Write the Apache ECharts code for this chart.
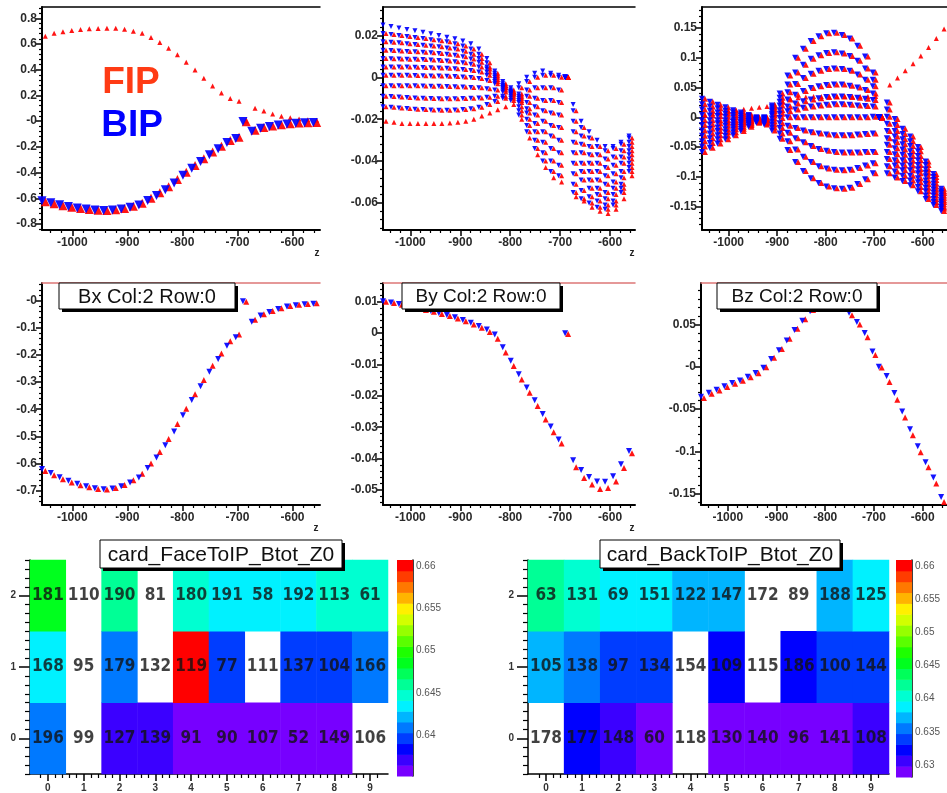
<!DOCTYPE html>
<html>
<head>
<meta charset="utf-8">
<script src="https://cdn.jsdelivr.net/npm/echarts@6/dist/echarts.min.js"></script>
<style>
html,body{margin:0;padding:0;background:#fff;}
#c{width:947px;height:793px;}
</style>
</head>
<body>
<div id="c"></div>
<script>
// ---- probe positions along z (BIP points sit a few units upstream of FIP) ----
const zBIP = [-1055,-1039,-1023,-1007,-991,-975,-959,-943,-927,-911,-895,-879,-863,-847,-831,-815,-799,-783,-767,-751,-735,-719,-703,-690,-674,-658,-642,-626,-610,-594,-578,-562];
const zFIP = [-1049,-1033,-1017,-1001,-985,-969,-953,-937,-921,-905,-889,-873,-857,-841,-825,-809,-793,-777,-761,-745,-729,-713,-697,-684,-668,-652,-636,-620,-604,-588,-572,-556];

// ---- single card Col:2 Row:0 ----
const bxCardBIP = [-0.62,-0.635,-0.651,-0.664,-0.675,-0.684,-0.691,-0.695,-0.692,-0.684,-0.67,-0.652,-0.617,-0.578,-0.533,-0.482,-0.422,-0.366,-0.315,-0.262,-0.215,-0.166,-0.135,-0.002,-0.078,-0.055,-0.042,-0.031,-0.022,-0.017,-0.013,-0.011];
const bxCardFIP = [-0.628,-0.643,-0.658,-0.67,-0.68,-0.688,-0.694,-0.696,-0.69,-0.679,-0.662,-0.638,-0.6,-0.558,-0.51,-0.455,-0.398,-0.345,-0.292,-0.24,-0.195,-0.15,-0.125,-0.004,-0.07,-0.05,-0.038,-0.028,-0.02,-0.015,-0.012,-0.01];
const byCardBIP = [0.0102,0.0098,0.0093,0.0088,0.0083,0.0077,0.0071,0.0064,0.0058,0.0051,0.0042,0.0033,0.0023,0.0012,-0.0004,-0.0045,-0.0088,-0.0131,-0.0173,-0.0214,-0.0258,-0.0298,-0.0339,0.0,-0.0405,-0.0436,-0.0459,-0.0473,-0.0474,-0.0456,-0.0418,-0.0376];
const byCardFIP = [0.01,0.0096,0.0091,0.0086,0.008,0.0074,0.0068,0.0061,0.0055,0.0047,0.0038,0.0028,0.0017,0.0004,-0.0018,-0.0062,-0.0105,-0.0148,-0.019,-0.0232,-0.0275,-0.0316,-0.0352,-0.0003,-0.0428,-0.0462,-0.0483,-0.0497,-0.0494,-0.0473,-0.043,-0.0383];
const bzCardBIP = [-0.0355,-0.0308,-0.0272,-0.0232,-0.0193,-0.0162,-0.0118,-0.0074,-0.0012,0.0092,0.0195,0.031,0.0435,0.0545,0.0655,0.074,0.081,0.084,0.078,0.0638,0.053,0.04,0.018,0.0,-0.011,-0.031,-0.053,-0.074,-0.094,-0.113,-0.131,-0.154];
const bzCardFIP = [-0.037,-0.032,-0.028,-0.024,-0.02,-0.0165,-0.0125,-0.0078,-0.0005,0.0105,0.021,0.033,0.045,0.056,0.067,0.075,0.0815,0.083,0.075,0.061,0.05,0.035,0.014,-0.001,-0.018,-0.039,-0.06,-0.081,-0.101,-0.119,-0.138,-0.16];

// ---- all cards: Bx (one FIP card positive) ----
const bxFIPpositive = [0.66,0.683,0.695,0.706,0.713,0.718,0.72,0.722,0.723,0.714,0.7,0.683,0.65,0.612,0.568,0.516,0.458,0.397,0.333,0.273,0.218,0.177,0.155,0.002,0.1,0.079,0.055,0.038,0.026,0.017,0.01,0.006];

// ---- all cards: By ----
const by0 = [0.021,0.0205,0.02,0.0195,0.019,0.0185,0.018,0.0175,0.017,0.016,0.015,0.0135,0.011,0.007,0.002,-0.003,-0.006,-0.005,-0.002,0.0,0.001,0.001,0.0,0.0,-0.016,-0.024,-0.029,-0.033,-0.035,-0.034,-0.032,-0.029];
const by1 = [0.017,0.0168,0.0165,0.016,0.0157,0.0153,0.015,0.0146,0.014,0.0135,0.0125,0.011,0.009,0.005,0.001,-0.004,-0.007,-0.008,-0.006,-0.005,-0.005,-0.005,-0.006,0.0,-0.021,-0.028,-0.033,-0.037,-0.039,-0.038,-0.035,-0.031];
const by2 = [0.013,0.0128,0.0126,0.0124,0.0122,0.012,0.0117,0.0114,0.011,0.0105,0.0098,0.0088,0.0072,0.004,0.0,-0.004,-0.007,-0.009,-0.009,-0.01,-0.011,-0.011,-0.012,0.0,-0.026,-0.032,-0.037,-0.041,-0.043,-0.042,-0.038,-0.033];
const by3 = [0.009,0.0089,0.0088,0.0087,0.0086,0.0085,0.0083,0.0081,0.0078,0.0075,0.007,0.0062,0.005,0.0025,-0.001,-0.005,-0.007,-0.01,-0.012,-0.014,-0.016,-0.017,-0.018,0.0,-0.031,-0.036,-0.041,-0.045,-0.047,-0.046,-0.041,-0.035];
const by4 = [0.005,0.005,0.0049,0.0049,0.0048,0.0047,0.0046,0.0045,0.0043,0.0041,0.0038,0.0033,0.0025,0.001,-0.002,-0.005,-0.008,-0.011,-0.015,-0.018,-0.021,-0.023,-0.024,0.0,-0.036,-0.041,-0.045,-0.049,-0.051,-0.05,-0.045,-0.037];
const by5 = [0.001,0.001,0.001,0.001,0.0009,0.0008,0.0007,0.0006,0.0005,0.0004,0.0002,-0.0001,-0.0006,-0.0015,-0.003,-0.006,-0.008,-0.012,-0.017,-0.022,-0.026,-0.028,-0.03,0.0,-0.041,-0.045,-0.049,-0.053,-0.055,-0.053,-0.048,-0.039];
const by6 = [-0.004,-0.004,-0.004,-0.004,-0.004,-0.0041,-0.0042,-0.0043,-0.0044,-0.0045,-0.0046,-0.0048,-0.005,-0.0055,-0.006,-0.007,-0.009,-0.014,-0.02,-0.026,-0.031,-0.034,-0.036,0.0,-0.046,-0.049,-0.053,-0.056,-0.058,-0.056,-0.051,-0.041];
const by7 = [-0.009,-0.0092,-0.0094,-0.0096,-0.0098,-0.01,-0.0101,-0.0102,-0.0102,-0.0102,-0.0101,-0.01,-0.0098,-0.0095,-0.009,-0.009,-0.01,-0.016,-0.023,-0.03,-0.036,-0.04,-0.042,0.0,-0.051,-0.054,-0.057,-0.059,-0.061,-0.059,-0.053,-0.043];
const by8 = [-0.014,-0.0143,-0.0146,-0.0149,-0.0152,-0.0154,-0.0156,-0.0157,-0.0157,-0.0156,-0.0154,-0.015,-0.0143,-0.013,-0.0115,-0.01,-0.011,-0.018,-0.026,-0.034,-0.04,-0.045,-0.047,0.0,-0.055,-0.058,-0.06,-0.062,-0.063,-0.061,-0.055,-0.045];
const byBIPtop = [0.025,0.0243,0.0236,0.0229,0.0222,0.0215,0.0208,0.02,0.0192,0.0184,0.0174,0.016,0.0135,0.009,0.003,-0.002,-0.005,-0.003,0.0,0.002,0.003,0.002,0.001,0.0,-0.013,-0.021,-0.026,-0.03,-0.033,-0.033,-0.031,-0.028];
const byFIPbottom = [-0.021,-0.0215,-0.022,-0.022,-0.022,-0.022,-0.022,-0.022,-0.0218,-0.0215,-0.021,-0.02,-0.0185,-0.017,-0.0155,-0.014,-0.013,-0.02,-0.029,-0.037,-0.043,-0.048,-0.05,0.0,-0.057,-0.059,-0.062,-0.064,-0.065,-0.063,-0.058,-0.047];

// ---- all cards: Bz ----
const bz0 = [-0.058,-0.051,-0.044,-0.037,-0.03,-0.023,-0.016,-0.009,0.0,0.02,0.04,0.07,0.1,0.115,0.128,0.136,0.141,0.142,0.138,0.132,0.12,0.102,0.075,0.0,0.025,-0.003,-0.019,-0.032,-0.05,-0.074,-0.095,-0.12];
const bz1 = [-0.049,-0.043,-0.037,-0.031,-0.025,-0.019,-0.013,-0.008,-0.001,0.017,0.033,0.055,0.075,0.088,0.098,0.104,0.108,0.109,0.107,0.103,0.095,0.082,0.063,0.0,0.013,-0.013,-0.028,-0.04,-0.057,-0.08,-0.1,-0.124];
const bz2 = [-0.04,-0.035,-0.03,-0.025,-0.02,-0.016,-0.011,-0.007,-0.002,0.013,0.026,0.042,0.056,0.066,0.073,0.078,0.081,0.082,0.081,0.078,0.072,0.063,0.052,0.0,0.001,-0.023,-0.037,-0.048,-0.065,-0.087,-0.105,-0.127];
const bz3 = [-0.031,-0.027,-0.023,-0.02,-0.016,-0.012,-0.009,-0.006,-0.003,0.01,0.02,0.03,0.038,0.044,0.049,0.052,0.054,0.055,0.055,0.053,0.05,0.046,0.04,0.0,-0.011,-0.032,-0.045,-0.057,-0.072,-0.093,-0.111,-0.131];
const bz4 = [-0.022,-0.019,-0.017,-0.014,-0.012,-0.009,-0.007,-0.005,-0.004,0.006,0.012,0.018,0.023,0.027,0.03,0.032,0.034,0.035,0.035,0.034,0.033,0.031,0.029,0.0,-0.023,-0.042,-0.054,-0.065,-0.08,-0.099,-0.116,-0.135];
const bz5 = [-0.013,-0.012,-0.01,-0.009,-0.008,-0.007,-0.006,-0.005,-0.005,0.003,0.006,0.01,0.013,0.016,0.018,0.02,0.021,0.022,0.022,0.021,0.02,0.019,0.018,0.0,-0.035,-0.052,-0.063,-0.073,-0.087,-0.106,-0.121,-0.139];
const bz6 = [-0.005,-0.005,-0.005,-0.005,-0.005,-0.004,-0.004,-0.004,-0.006,-0.002,-0.001,0.0,0.0,0.0,0.0,0.0,0.0,0.0,0.0,0.0,0.0,0.0,0.001,0.0,-0.046,-0.062,-0.072,-0.081,-0.094,-0.112,-0.126,-0.142];
const bz7 = [0.004,0.003,0.002,0.001,0.0,-0.001,-0.002,-0.003,-0.007,-0.007,-0.01,-0.014,-0.018,-0.022,-0.025,-0.027,-0.029,-0.03,-0.03,-0.03,-0.029,-0.028,-0.027,0.0,-0.058,-0.072,-0.081,-0.089,-0.102,-0.118,-0.131,-0.146];
const bz8 = [0.013,0.011,0.008,0.006,0.004,0.002,0.0,-0.002,-0.008,-0.012,-0.018,-0.026,-0.035,-0.042,-0.048,-0.053,-0.056,-0.058,-0.059,-0.059,-0.059,-0.058,-0.058,0.0,-0.07,-0.081,-0.089,-0.098,-0.109,-0.124,-0.137,-0.15];
const bz9 = [0.022,0.018,0.015,0.011,0.008,0.005,0.002,-0.001,-0.01,-0.017,-0.027,-0.04,-0.054,-0.066,-0.075,-0.082,-0.086,-0.088,-0.089,-0.088,-0.085,-0.081,-0.077,0.0,-0.082,-0.091,-0.098,-0.106,-0.117,-0.131,-0.142,-0.153];
const bz10 = [0.031,0.026,0.021,0.017,0.012,0.008,0.004,0.0,-0.012,-0.022,-0.036,-0.055,-0.075,-0.09,-0.102,-0.11,-0.116,-0.119,-0.12,-0.118,-0.112,-0.104,-0.094,0.0,-0.094,-0.101,-0.107,-0.114,-0.124,-0.137,-0.147,-0.157];
const bzFIPpositive = [0.004,0.006,0.008,0.01,0.012,0.0135,0.015,0.0168,0.018,0.022,0.027,0.031,0.033,0.034,0.035,0.035,0.035,0.035,0.035,0.035,0.035,0.035,0.035,0.0,0.054,0.066,0.078,0.09,0.103,0.117,0.132,0.148];

// ---- card maps: Btot per card (0 = empty bin) and card numbers ----
const faceBtotRow0 = [0.6409,0,0.6371,0.6371,0.6358,0.6358,0.6358,0.6358,0.6358,0];
const faceBtotRow1 = [0.6435,0,0.6409,0,0.6601,0.6397,0,0.6397,0.6397,0.6409];
const faceBtotRow2 = [0.6486,0,0.646,0,0.6448,0.6435,0.6435,0.6435,0.6448,0.6448];
const faceCardRow0 = [196,99,127,139,91,90,107,52,149,106];
const faceCardRow1 = [168,95,179,132,119,77,111,137,104,166];
const faceCardRow2 = [181,110,190,81,180,191,58,192,113,61];
const backBtotRow0 = [0,0.6323,0.6307,0.629,0,0.629,0.629,0.629,0.629,0.6307];
const backBtotRow1 = [0.6372,0.6356,0.6339,0.6339,0,0.6323,0,0.6323,0.6339,0.6339];
const backBtotRow2 = [0.6421,0.6405,0.6388,0.6388,0.6372,0.6372,0,0,0.6372,0.6388];
const backCardRow0 = [178,177,148,60,118,130,140,96,141,108];
const backCardRow1 = [105,138,97,134,154,109,115,186,100,144];
const backCardRow2 = [63,131,69,151,122,147,172,89,188,125];
const faceScale = [0.6352, 0.6607];
const backScale = [0.6282, 0.6609];

// ---- tick labels ----
const zTickLabels = ['-1000','-900','-800','-700','-600'];
const yTicksBxAll = ['0.8','0.6','0.4','0.2','-0','-0.2','-0.4','-0.6','-0.8'];
const yTicksByAll = ['0.02','0','-0.02','-0.04','-0.06'];
const yTicksBzAll = ['0.15','0.1','0.05','0','-0.05','-0.1','-0.15'];
const yTicksBxCard = ['-0','-0.1','-0.2','-0.3','-0.4','-0.5','-0.6','-0.7'];
const yTicksByCard = ['0.01','0','-0.01','-0.02','-0.03','-0.04','-0.05'];
const yTicksBzCard = ['0.05','-0','-0.05','-0.1','-0.15'];
const colTicks = ['0','1','2','3','4','5','6','7','8','9'];
const rowTicks = ['0','1','2'];
const faceScaleTicks = ['0.64','0.645','0.65','0.655','0.66'];
const backScaleTicks = ['0.63','0.635','0.64','0.645','0.65','0.655','0.66'];

// ---- styling ----
const FONT = "'Liberation Sans', Arial, sans-serif";
const NARROW = "'Liberation Sans Narrow', 'DejaVu Sans Condensed', sans-serif";
const RED = '#ff0000', BLUE = '#0000ff';
const Z_RANGE = [-1055, -550];
const palette = ['#7700ff','#3b00ff','#0001ff','#003dff','#0079ff','#00b5ff','#00f1ff','#00ffd1','#00ff96','#00ff5a',
                 '#00ff1e','#1eff00','#5aff00','#96ff00','#d2ff00','#fff000','#ffb400','#ff7800','#ff3c00','#ff0000'];

const grids = [], xAxes = [], yAxes = [], series = [], visualMaps = [];

function labelFormatter(labels) {
  const m = {};
  labels.forEach(t => { m[parseFloat(t).toFixed(6)] = t; });
  return v => { const k = (+v).toFixed(6); return (k in m) ? m[k] : ''; };
}
function minorValues(min, max, step, majors) {
  const out = [];
  const k0 = Math.ceil(min / step - 1e-6), k1 = Math.floor(max / step + 1e-6);
  for (let k = k0; k <= k1; k++) {
    const v = +(k * step).toFixed(6);
    if (!majors.some(m => Math.abs(m - v) < step * 0.01)) out.push(v);
  }
  return out;
}
const axisFont = {fontFamily: FONT, fontSize: 12, fontWeight: 'bold', color: '#2a2a2a'};

function valueAxis(g, pos, range, majorLabels, minorStep, opts) {
  const majors = majorLabels.map(Number);
  const main = {
    gridIndex: g, type: 'value', min: range[0], max: range[1], position: pos,
    axisLine: {show: true, onZero: false, lineStyle: {color: '#000', width: opts.lineWidth || 2}},
    axisTick: {show: true, customValues: majors, length: opts.major || 6, inside: !!opts.inside, lineStyle: {color: '#000', width: 1.5}},
    axisLabel: Object.assign({show: true, customValues: majors, formatter: labelFormatter(majorLabels), margin: opts.margin || 6}, opts.font || axisFont),
    splitLine: {show: false}
  };
  const minor = {
    gridIndex: g, type: 'value', min: range[0], max: range[1], position: pos,
    axisLine: {show: false, onZero: false},
    axisTick: {show: true, customValues: minorValues(range[0], range[1], minorStep, majors), length: opts.minor || 3, inside: !!opts.inside, lineStyle: {color: '#000', width: 1.2}},
    axisLabel: {show: false}, splitLine: {show: false}
  };
  return [main, minor];
}

function scatterPanel(box, yRange, yLabels, yMinorStep, frameColor) {
  const g = grids.length;
  grids.push({left: box[0], top: box[1], width: box[2], height: box[3]});
  const xi = xAxes.length, yi = yAxes.length;
  xAxes.push(...valueAxis(g, 'bottom', Z_RANGE, zTickLabels, 20, {margin: 7}));
  xAxes.push({gridIndex: g, type: 'value', min: Z_RANGE[0], max: Z_RANGE[1], position: 'top',
    axisLine: {show: true, onZero: false, lineStyle: {color: frameColor, width: 1.5}},
    axisTick: {show: false}, axisLabel: {show: false}, splitLine: {show: false}});
  yAxes.push(...valueAxis(g, 'left', yRange, yLabels, yMinorStep, {margin: 5, major: 6}));
  return {xi, yi};
}

function points(zs, vals) {
  const d = [];
  zs.forEach((z, i) => { if (vals[i] !== null && vals[i] !== undefined) d.push([z, vals[i]]); });
  return d;
}
function addMarkers(p, zs, vals, isBIP, size) {
  series.push({
    type: 'scatter', xAxisIndex: p.xi, yAxisIndex: p.yi, data: points(zs, vals),
    symbol: 'triangle', symbolSize: size || 6, symbolRotate: isBIP ? 180 : 0,
    itemStyle: {color: isBIP ? BLUE : RED, opacity: 0.92}, silent: true, clip: true, z: isBIP ? 3 : 2
  });
}

// ---- top row: all cards ----
const pBxAll = scatterPanel([42, 7, 278, 223], [-0.847, 0.888], yTicksBxAll, 0.04, '#000');
const pByAll = scatterPanel([383, 7, 252, 223], [-0.0729, 0.0336], yTicksByAll, 0.004, '#000');
const pBzAll = scatterPanel([702, 7, 252, 223], [-0.189, 0.185], yTicksBzAll, 0.01, '#000');
// ---- middle row: card Col:2 Row:0 ----
const pBxCard = scatterPanel([42, 283, 278, 222], [-0.753, 0.065], yTicksBxCard, 0.02, '#d77');
const pByCard = scatterPanel([383, 283, 252, 222], [-0.0548, 0.016], yTicksByCard, 0.002, '#d77');
const pBzCard = scatterPanel([701, 283, 252, 222], [-0.1635, 0.099], yTicksBzCard, 0.01, '#d77');

// Bx, all cards
addMarkers(pBxAll, zFIP, bxFIPpositive, false, 5);
addMarkers(pBxAll, zFIP, bxCardFIP, false, 9);
addMarkers(pBxAll, zBIP, bxCardBIP, true, 9);
// By, all cards
const byCurves = [by0, by1, by2, by3, by4, by5, by6, by7, by8];
byCurves.forEach(c => addMarkers(pByAll, zFIP, c, false, 5));
addMarkers(pByAll, zFIP, byFIPbottom, false, 5);
byCurves.forEach(c => addMarkers(pByAll, zBIP, c, true, 5));
addMarkers(pByAll, zBIP, byBIPtop, true, 5);
// Bz, all cards
const bzCurves = [bz0, bz1, bz2, bz3, bz4, bz5, bz6, bz7, bz8, bz9, bz10];
bzCurves.forEach(c => addMarkers(pBzAll, zFIP, c, false, 6));
addMarkers(pBzAll, zFIP, bzFIPpositive, false, 5);
bzCurves.forEach(c => addMarkers(pBzAll, zBIP, c, true, 6));
// single card
addMarkers(pBxCard, zFIP, bxCardFIP, false, 6);
addMarkers(pBxCard, zBIP, bxCardBIP, true, 6);
addMarkers(pByCard, zFIP, byCardFIP, false, 6);
addMarkers(pByCard, zBIP, byCardBIP, true, 6);
addMarkers(pBzCard, zFIP, bzCardFIP, false, 6);
addMarkers(pBzCard, zBIP, bzCardBIP, true, 6);

// ---- bottom row: card maps with colour scales ----
function colorPieces(range) {
  const w = (range[1] - range[0]) / palette.length;
  return palette.map((c, i) => (i === palette.length - 1)
    ? {gte: range[0] + i * w, lte: range[1], color: c}
    : {gte: range[0] + i * w, lt: range[0] + (i + 1) * w, color: c});
}
function scaleBands(range) {
  const w = (range[1] - range[0]) / palette.length;
  return palette.map((c, i) => [0, range[0] + i * w, range[0] + (i + 1) * w, i]);
}

function cardMap(box, barBox, btotRows, cardRows, scale, scaleTicks) {
  const g = grids.length;
  grids.push({left: box[0], top: box[1], width: box[2], height: box[3]});
  const xi = xAxes.length, yi = yAxes.length;
  const small = {fontFamily: FONT, fontSize: 10, fontWeight: 'bold', color: '#333'};
  xAxes.push({gridIndex: g, type: 'category', data: colTicks, position: 'bottom',
    axisLine: {show: true, onZero: false, lineStyle: {color: '#000', width: 1.5}},
    axisTick: {show: true, alignWithLabel: true, length: 7, lineStyle: {color: '#000', width: 1.5}},
    axisLabel: Object.assign({margin: 9, interval: 0}, small), splitLine: {show: false}});
  xAxes.push({gridIndex: g, type: 'value', min: -0.5, max: 9.5, position: 'bottom',
    axisLine: {show: false, onZero: false},
    axisTick: {show: true, customValues: minorValues(-0.5, 9.5, 0.2, [0,1,2,3,4,5,6,7,8,9,-0.4,9.4]), length: 4, lineStyle: {color: '#000', width: 1.2}},
    axisLabel: {show: false}, splitLine: {show: false}});
  yAxes.push({gridIndex: g, type: 'category', data: rowTicks, position: 'left',
    axisLine: {show: true, onZero: false, lineStyle: {color: '#000', width: 1.5}},
    axisTick: {show: true, alignWithLabel: true, length: 11, lineStyle: {color: '#000', width: 1.5}},
    axisLabel: Object.assign({margin: 14}, small), splitLine: {show: false}});
  yAxes.push({gridIndex: g, type: 'value', min: -0.5, max: 2.5, position: 'left',
    axisLine: {show: false, onZero: false},
    axisTick: {show: true, customValues: minorValues(-0.5, 2.5, 0.125, [0, 1, 2]), length: 5, lineStyle: {color: '#000', width: 1.2}},
    axisLabel: {show: false}, splitLine: {show: false}});

  const cells = [], labels = [];
  btotRows.forEach((row, r) => row.forEach((v, c) => {
    if (v >= scale[0]) cells.push([c, r, v]);
    labels.push([c, r, cardRows[r][c]]);
  }));
  const hmIndex = series.length;
  series.push({type: 'heatmap', xAxisIndex: xi, yAxisIndex: yi, data: cells, silent: true,
    itemStyle: {borderWidth: 0}, z: 2});
  visualMaps.push({type: 'piecewise', show: false, seriesIndex: hmIndex, dimension: 2,
    pieces: colorPieces(scale), outOfRange: {color: '#ffffff'}});
  series.push({type: 'scatter', xAxisIndex: xi, yAxisIndex: yi, data: labels, symbol: 'rect', symbolSize: 1,
    itemStyle: {color: 'rgba(0,0,0,0)'}, silent: true, z: 4,
    label: {show: true, position: 'inside', formatter: p => String(p.data[2]),
      fontFamily: NARROW, fontSize: 17, fontWeight: 'bold', color: '#111'}});

  // colour scale
  const gb = grids.length;
  grids.push({left: barBox[0], top: barBox[1], width: barBox[2], height: barBox[3]});
  const bxi = xAxes.length, byi = yAxes.length;
  xAxes.push({gridIndex: gb, type: 'value', min: 0, max: 1, show: false});
  const majors = scaleTicks.map(Number);
  yAxes.push({gridIndex: gb, type: 'value', min: scale[0], max: scale[1], position: 'right',
    axisLine: {show: true, onZero: false, lineStyle: {color: '#000', width: 1.5}},
    axisTick: {show: true, inside: true, customValues: majors, length: 10, lineStyle: {color: '#000', width: 2}},
    axisLabel: {show: true, customValues: majors, formatter: labelFormatter(scaleTicks), margin: 3,
      fontFamily: FONT, fontSize: 10, color: '#555'},
    splitLine: {show: false}});
  series.push({type: 'custom', xAxisIndex: bxi, yAxisIndex: byi, data: scaleBands(scale),
    encode: {x: 0, y: [1, 2]}, silent: true, z: 1,
    renderItem: (params, api) => {
      const p0 = api.coord([0, api.value(2)]);
      const p1 = api.coord([1, api.value(1)]);
      return {type: 'rect', shape: {x: p0[0], y: p0[1], width: p1[0] - p0[0], height: p1[1] - p0[1] + 0.5},
        style: {fill: palette[api.value(3)]}};
    }});
}

cardMap([30, 560, 358, 215], [397, 560, 16, 216],
  [faceBtotRow0, faceBtotRow1, faceBtotRow2], [faceCardRow0, faceCardRow1, faceCardRow2], faceScale, faceScaleTicks);
cardMap([528, 560, 361, 215], [896, 560, 16, 217],
  [backBtotRow0, backBtotRow1, backBtotRow2], [backCardRow0, backCardRow1, backCardRow2], backScale, backScaleTicks);

// ---- text overlays: legend words, pad titles, axis titles ----
function textEl(x, y, text, font, fill, align) {
  return {type: 'text', x: x, y: y, z: 110, silent: true,
    style: {text: text, font: font, fill: fill, align: align || 'center', verticalAlign: 'middle',
      textAlign: align || 'center', textVerticalAlign: 'middle'}};
}
function titleBox(x, y, w, h, text, fontPx) {
  return [
    {type: 'rect', z: 100, silent: true, shape: {x: x + 3, y: y + 3, width: w, height: h}, style: {fill: '#000'}},
    {type: 'rect', z: 101, silent: true, shape: {x: x, y: y, width: w, height: h}, style: {fill: '#fff', stroke: '#000', lineWidth: 1}},
    textEl(x + w / 2, y + h / 2 + 1, text, fontPx + 'px ' + FONT, '#111')
  ];
}
const graphics = [
  textEl(131, 83, 'FIP', 'bold 37px ' + FONT, '#ff3b14'),
  textEl(132, 126, 'BIP', 'bold 37px ' + FONT, '#0000ff'),
  ...titleBox(59, 283, 176, 26, 'Bx Col:2 Row:0', 20),
  ...titleBox(402, 283, 158, 26, 'By Col:2 Row:0', 19),
  ...titleBox(717, 283, 160, 26, 'Bz Col:2 Row:0', 19),
  ...titleBox(100, 540, 242, 28, 'card_FaceToIP_Btot_Z0', 21),
  ...titleBox(600, 540, 240, 28, 'card_BackToIP_Btot_Z0', 21),
  textEl(317, 253, 'z', 'bold 10px ' + FONT, '#222'),
  textEl(632, 253, 'z', 'bold 10px ' + FONT, '#222'),
  textEl(316, 528, 'z', 'bold 10px ' + FONT, '#222'),
  textEl(632, 528, 'z', 'bold 10px ' + FONT, '#222')
];

const chart = echarts.init(document.getElementById('c'), null, {renderer: 'canvas'});
chart.setOption({
  animation: false,
  backgroundColor: '#ffffff',
  grid: grids,
  xAxis: xAxes,
  yAxis: yAxes,
  visualMap: visualMaps,
  series: series,
  graphic: {elements: graphics}
});
</script>
</body>
</html>
